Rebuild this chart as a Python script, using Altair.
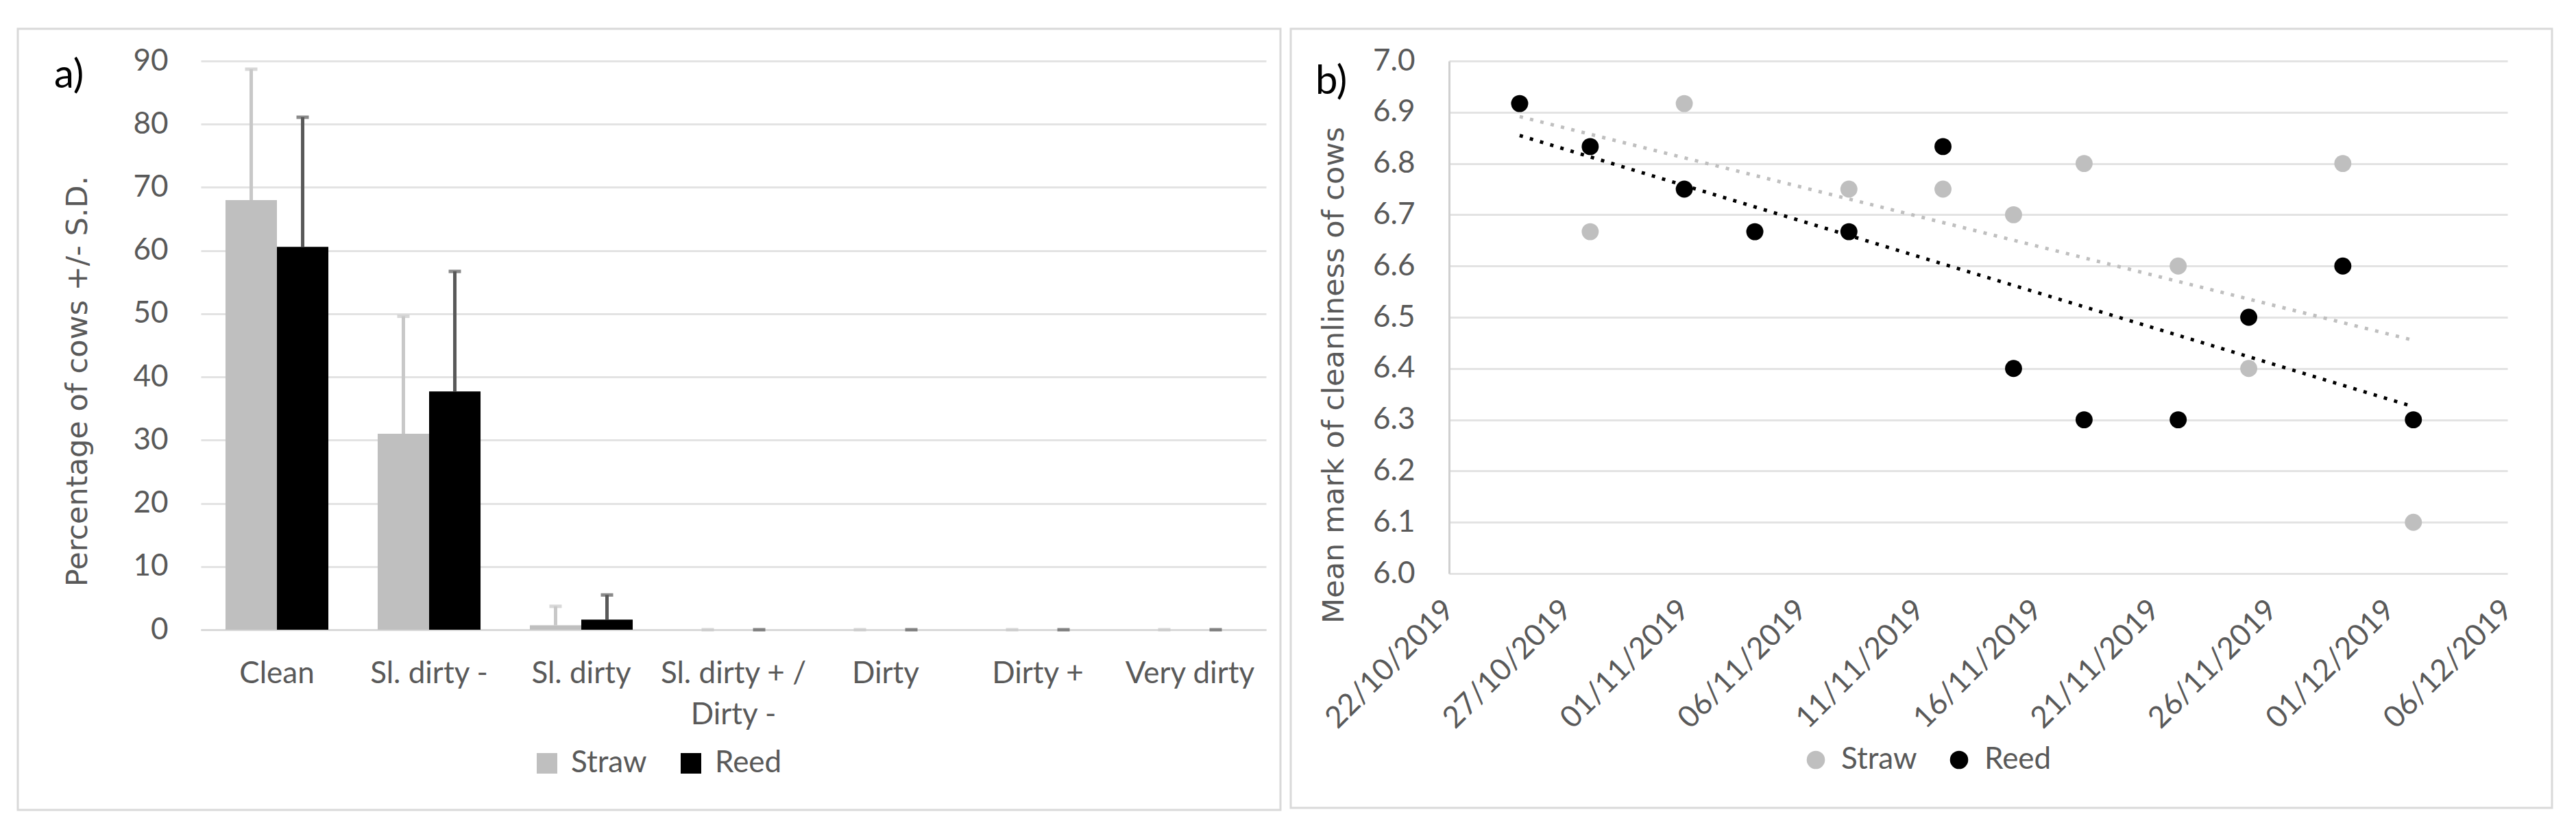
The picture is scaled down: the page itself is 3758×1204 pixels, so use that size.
import altair as alt
import pandas as pd

# ---------------- data ----------------
categories = ["Clean", "Sl. dirty -", "Sl. dirty", "Sl. dirty + / Dirty -",
              "Dirty", "Dirty +", "Very dirty"]
series_names = ["Straw", "Reed"]
straw_pct = [68.0, 31.0, 0.7, 0.0, 0.0, 0.0, 0.0]
straw_sd = [20.7, 18.6, 3.0, 0.0, 0.0, 0.0, 0.0]
reed_pct = [60.6, 37.7, 1.6, 0.0, 0.0, 0.0, 0.0]
reed_sd = [20.5, 19.0, 3.9, 0.0, 0.0, 0.0, 0.0]
pct_ticks = [0, 10, 20, 30, 40, 50, 60, 70, 80, 90]

obs_dates = ["2019-10-25", "2019-10-28", "2019-11-01", "2019-11-04",
             "2019-11-08", "2019-11-12", "2019-11-15", "2019-11-18",
             "2019-11-22", "2019-11-25", "2019-11-29", "2019-12-02"]
straw_mark = [6.917, 6.667, 6.917, 6.667, 6.75, 6.75, 6.70, 6.80, 6.60, 6.40, 6.80, 6.10]
reed_mark = [6.917, 6.833, 6.75, 6.667, 6.667, 6.833, 6.40, 6.30, 6.30, 6.50, 6.60, 6.30]
date_ticks = ["2019-10-22", "2019-10-27", "2019-11-01", "2019-11-06", "2019-11-11",
              "2019-11-16", "2019-11-21", "2019-11-26", "2019-12-01", "2019-12-06"]
mark_ticks = [6.0, 6.1, 6.2, 6.3, 6.4, 6.5, 6.6, 6.7, 6.8, 6.9, 7.0]
panel_labels = ["a)", "b)"]

# ---------------- styling ----------------
LBL_FONT = "Lato"
TTL_FONT = "DejaVu Sans"
TXT = "#595959"
GRID = "#E3E3E3"
FRAME = "#D9D9D9"
COLORS = ["#BFBFBF", "#000000"]
FS = 44


def dt(s):
    y, m, d = (int(v) for v in s.split("-"))
    return alt.DateTime(year=y, month=m, date=d, utc=True)


# ---------------- panel a ----------------
bars = pd.DataFrame({
    "category": categories * 2,
    "series": [series_names[0]] * len(categories) + [series_names[1]] * len(categories),
    "pct": straw_pct + reed_pct,
    "sd": straw_sd + reed_sd,
})

x_a = alt.X(
    "category:N", sort=categories, title=None,
    scale=alt.Scale(paddingInner=0.324, paddingOuter=0.162),
    axis=alt.Axis(
        labelAngle=0, labelFont=LBL_FONT, labelFontSize=FS, labelColor=TXT,
        labelPadding=42, labelLineHeight=60, labelLimit=0, ticks=False,
        domainColor=FRAME, domainWidth=3, grid=False,
        labelExpr="datum.value == 'Sl. dirty + / Dirty -' ? ['Sl. dirty + /', 'Dirty -'] : datum.value",
    ),
)
y_a = alt.Y(
    "pct:Q",
    scale=alt.Scale(domain=[0, 90], nice=False),
    axis=alt.Axis(
        values=pct_ticks, title="Percentage of cows +/- S.D.",
        titleFont=TTL_FONT, titleFontSize=43, titleColor=TXT, titleFontWeight="normal",
        titleAngle=270, titleAlign="center", titleBaseline="middle",
        titleX=-180, titleY=467,
        labelFont=LBL_FONT, labelFontSize=FS, labelColor=TXT, labelPadding=48,
        ticks=False, domain=False, grid=True, gridColor=GRID, gridWidth=3,
    ),
)
xoff = alt.XOffset("series:N", sort=series_names,
                   scale=alt.Scale(domain=series_names, paddingInner=0, paddingOuter=0))

bar_layer = alt.Chart(bars).mark_bar().encode(
    x=x_a, xOffset=xoff, y=y_a,
    color=alt.Color(
        "series:N", sort=series_names,
        scale=alt.Scale(domain=series_names, range=COLORS),
        legend=alt.Legend(
            title=None, orient="none", legendX=483, legendY=1003, direction="horizontal",
            symbolType="square", symbolSize=900, symbolStrokeWidth=0,
            labelFont=LBL_FONT, labelFontSize=FS, labelColor=TXT,
            labelOffset=13, columnPadding=42, padding=0,
        ),
    ),
)

err_base = alt.Chart(bars).transform_calculate(
    upper="datum.pct + datum.sd",
    ec="datum.series == 'Straw' ? '#C8C8C8' : '#595959'",
)
err_rule = err_base.mark_rule(strokeWidth=5).encode(
    x=alt.X("category:N", sort=categories), xOffset=xoff,
    y="pct:Q", y2="upper:Q",
    stroke=alt.Stroke("ec:N", scale=None),
)
err_cap = err_base.mark_tick(size=18, thickness=5).encode(
    x=alt.X("category:N", sort=categories), xOffset=xoff,
    y="upper:Q",
    fill=alt.Fill("ec:N", scale=None),
)

one = pd.DataFrame({"label": [panel_labels[0]]})
frame_a = alt.Chart(one).mark_rect(fillOpacity=0, stroke=FRAME, strokeWidth=3).encode(
    x=alt.value(-267), x2=alt.value(1575), y=alt.value(-47), y2=alt.value(1093))
tag_a = alt.Chart(one).mark_text(
    align="left", baseline="alphabetic", font=LBL_FONT, fontSize=58, color="#000000"
).encode(x=alt.value(-214), y=alt.value(39), text="label:N")

panel_a = alt.layer(frame_a, bar_layer, err_rule, err_cap, tag_a).properties(
    width=1554, height=830)

# ---------------- panel b ----------------
pts = pd.DataFrame({
    "date": obs_dates * 2,
    "series": [series_names[0]] * len(obs_dates) + [series_names[1]] * len(obs_dates),
    "mark": straw_mark + reed_mark,
})

x_b = alt.X(
    "t:T", title=None,
    scale=alt.Scale(type="utc", domain=[dt(date_ticks[0]), dt(date_ticks[-1])], nice=False),
    axis=alt.Axis(
        values=[dt(s) for s in date_ticks],
        labelExpr="utcFormat(datum.value, '%d/%m/%Y')",
        labelAngle=315, labelAlign="right", labelBaseline="middle", labelPadding=46,
        labelFont=LBL_FONT, labelFontSize=FS, labelColor=TXT, labelFlush=False,
        labelOverlap=False, labelLimit=0, ticks=False, domain=False, grid=False,
    ),
)
y_b = alt.Y(
    "mark:Q",
    scale=alt.Scale(domain=[6.0, 7.0], nice=False, zero=False),
    axis=alt.Axis(
        values=mark_ticks, format=".1f", title="Mean mark of cleanliness of cows",
        titleFont=TTL_FONT, titleFontSize=43, titleColor=TXT, titleFontWeight="normal",
        titleAngle=270, titleAlign="center", titleBaseline="middle",
        titleX=-168, titleY=458,
        labelFont=LBL_FONT, labelFontSize=FS, labelColor=TXT, labelPadding=50,
        ticks=False, domain=True, domainColor="#D0D0D0", domainWidth=3,
        grid=True, gridColor=GRID, gridWidth=3,
    ),
)
color_b = alt.Color(
    "series:N", sort=series_names,
    scale=alt.Scale(domain=series_names, range=COLORS),
    legend=alt.Legend(
        title=None, orient="none", legendX=513, legendY=998, direction="horizontal",
        symbolType="circle", symbolSize=707, symbolStrokeWidth=0,
        labelFont=LBL_FONT, labelFontSize=FS, labelColor=TXT,
        labelOffset=15, columnPadding=39, padding=0,
    ),
)

base_b = alt.Chart(pts).transform_calculate(t="time(toDate(datum.date))")
dots = base_b.mark_circle(size=620, opacity=1).encode(x=x_b, y=y_b, color=color_b)
trend = base_b.transform_regression("t", "mark", groupby=["series"]).mark_line(
    strokeWidth=5, strokeDash=[5, 10.5], strokeCap="butt"
).encode(
    x="t:T", y="mark:Q",
    color=alt.Color("series:N", sort=series_names,
                    scale=alt.Scale(domain=series_names, range=COLORS), legend=None),
)

one_b = pd.DataFrame({"label": [panel_labels[1]]})
frame_b = alt.Chart(one_b).mark_rect(fillOpacity=0, stroke=FRAME, strokeWidth=3).encode(
    x=alt.value(-231), x2=alt.value(1609), y=alt.value(-47), y2=alt.value(1090))
tag_b = alt.Chart(one_b).mark_text(
    align="left", baseline="alphabetic", font=LBL_FONT, fontSize=58, color="#000000"
).encode(x=alt.value(-195), y=alt.value(48), text="label:N")

panel_b = alt.layer(frame_b, dots, trend, tag_b).properties(width=1544, height=748)

chart = alt.hconcat(panel_a, panel_b, spacing=11).resolve_scale(
    color="independent").resolve_legend(color="independent").properties(
    padding={"left": 16, "top": 32, "right": 8, "bottom": 4},
    background="#FFFFFF",
).configure_view(stroke="transparent")

chart.save("out.html", embed_options={"renderer": "svg", "actions": False})
